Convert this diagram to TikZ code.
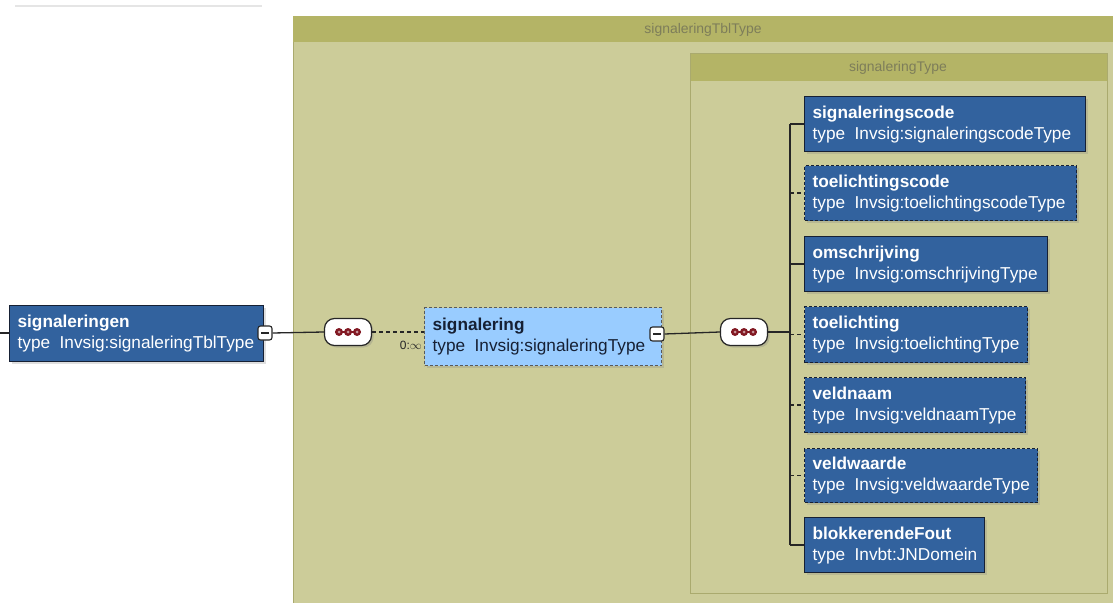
\documentclass[tikz,border=0pt]{standalone}
\usepackage{fontspec}
\setmainfont{Liberation Sans}
\usetikzlibrary{shadows}
\definecolor{elemblue}{RGB}{50,98,158}
\definecolor{elemborder}{RGB}{22,32,52}
\definecolor{lightblue}{RGB}{153,204,255}
\definecolor{olivefill}{RGB}{204,204,153}
\definecolor{olivehead}{RGB}{180,180,102}
\definecolor{oliveline}{RGB}{170,170,110}
\definecolor{olivetext}{RGB}{125,125,90}
\definecolor{seqred}{RGB}{130,25,35}
\newcommand{\tsep}{\hspace{0.55em}}
\newcommand{\elemtext}[2]{\mbox{\textbf{#1}}\\\mbox{type\tsep #2}}
\tikzset{
  elem/.style={draw=elemborder, line width=1.2bp, fill=elemblue, text=white,
    align=left, inner xsep=8bp, inner ysep=0bp, anchor=north west,
    font=\fontsize{17.3}{21}\selectfont,
    drop shadow={opacity=0.25, shadow xshift=2bp, shadow yshift=-2bp}},
  optional/.style={dash pattern=on 3bp off 2bp},
  optline/.style={dash pattern=on 4bp off 3bp},
  selem/.style={elem, fill=lightblue, text=elemborder, draw=gray!70!black, optional},
  minusbox/.style={draw=gray!30!black, line width=1.1bp, fill=white, rounded corners=2.5bp,
    minimum size=14bp, inner sep=0bp,
    path picture={\draw[gray!30!black, line width=1.2bp]
      ([xshift=-4bp]path picture bounding box.center) -- ([xshift=4bp]path picture bounding box.center);}},
  seqbox/.style={draw=black!85, line width=1.2bp, fill=white, rounded corners=10bp,
    minimum width=47bp, minimum height=27bp, inner sep=0bp,
    drop shadow={opacity=0.3, shadow xshift=2bp, shadow yshift=-2bp}},
  conn/.style={draw=black!85, line width=1.3bp},
  container/.style={fill=olivefill, draw=oliveline, line width=1.2bp, anchor=north west, inner sep=0bp},
  headband/.style={fill=olivehead, anchor=north west, inner sep=0bp},
  headtext/.style={text=olivetext, font=\fontsize{14}{16}\selectfont}
}
\newcommand{\seqdots}[1]{%
  \draw[seqred, line width=1.3bp] ([xshift=-13bp]#1.center) -- ([xshift=13bp]#1.center);
  \foreach \dx in {-9,0,9}{\fill[seqred] ([xshift=\dx bp]#1.center) circle (4bp);
    \fill[white!55!seqred] ([xshift=\dx bp]#1.center) circle (1.5bp);}}
\begin{document}
\begin{tikzpicture}[x=1bp,y=-1bp]
\useasboundingbox[fill=white] (0,0) rectangle (1113,603);
% faint top-left line
\draw[gray!20, line width=2bp] (15,6) -- (262,6);
% outer container
\node[container, minimum width=840bp, minimum height=600bp] (outer) at (293,16) {};
\node[headband, minimum width=840bp, minimum height=26bp] (outerhead) at (293,16) {};
\node[headtext] (outertitle) at (703,30) {signaleringTblType};
% inner container
\node[container, minimum width=417bp, minimum height=540bp] (inner) at (690,53) {};
\node[headband, minimum width=416bp, minimum height=27bp] (innerhead) at (690.6,53.6) {};
\node[headtext] (innertitle) at (898,68) {signaleringType};

% root element
\coordinate (leftend) at (0,333);
\node[elem, text width=238bp, minimum height=56bp] (root) at (9,305)
  {\elemtext{signaleringen}{Invsig:signaleringTblType}};
\node[minusbox] (m1) at (265,333) {};
\draw[conn] (leftend) -- (root.west |- leftend);

% sequence 1
\node[seqbox] (s1) at (348,332) {};
\seqdots{s1}
\draw[conn] (m1.east) -- (s1.west);

% signalering
\node[selem, text width=221bp, minimum height=58bp] (sig) at (424,307)
  {\elemtext{signalering}{Invsig:signaleringType}};
\node[minusbox] (m2) at (657,334) {};
\draw[conn, optline] (s1.east) -- (sig.west |- s1.east);
\node[font=\fontsize{12}{14}\selectfont, text=black!85, anchor=east, inner sep=1bp] (card) at (423,345) {0:$\infty$};

% sequence 2
\node[seqbox] (s2) at (744,332) {};
\seqdots{s2}
\draw[conn] (m2.east) -- (s2.west);
\coordinate (bus) at (790,332);
\draw[conn] (s2.east) -- (bus);

% children
\node[elem, text width=265bp, minimum height=55bp] (c1) at (804,96)
  {\elemtext{signaleringscode}{Invsig:signaleringscodeType}};
\node[elem, optional, text width=256bp, minimum height=55bp] (c2) at (804,165)
  {\elemtext{toelichtingscode}{Invsig:toelichtingscodeType}};
\node[elem, text width=227bp, minimum height=55bp] (c3) at (804,236)
  {\elemtext{omschrijving}{Invsig:omschrijvingType}};
\node[elem, optional, text width=207bp, minimum height=56bp] (c4) at (804,306)
  {\elemtext{toelichting}{Invsig:toelichtingType}};
\node[elem, optional, text width=205bp, minimum height=55bp] (c5) at (804,377)
  {\elemtext{veldnaam}{Invsig:veldnaamType}};
\node[elem, optional, text width=217bp, minimum height=54bp] (c6) at (804,448)
  {\elemtext{veldwaarde}{Invsig:veldwaardeType}};
\node[elem, text width=164bp, minimum height=55bp] (c7) at (804,517)
  {\elemtext{blokkerendeFout}{Invbt:JNDomein}};

\draw[conn] (bus |- c1.west) -- (bus |- c7.west);
\draw[conn] (bus |- c1.west) -- (c1.west);
\draw[conn, optline] (bus |- c2.west) -- (c2.west);
\draw[conn] (bus |- c3.west) -- (c3.west);
\draw[conn, optline] (bus |- c4.west) -- (c4.west);
\draw[conn, optline] (bus |- c5.west) -- (c5.west);
\draw[conn, optline] (bus |- c6.west) -- (c6.west);
\draw[conn] (bus |- c7.west) -- (c7.west);
\end{tikzpicture}
\end{document}
